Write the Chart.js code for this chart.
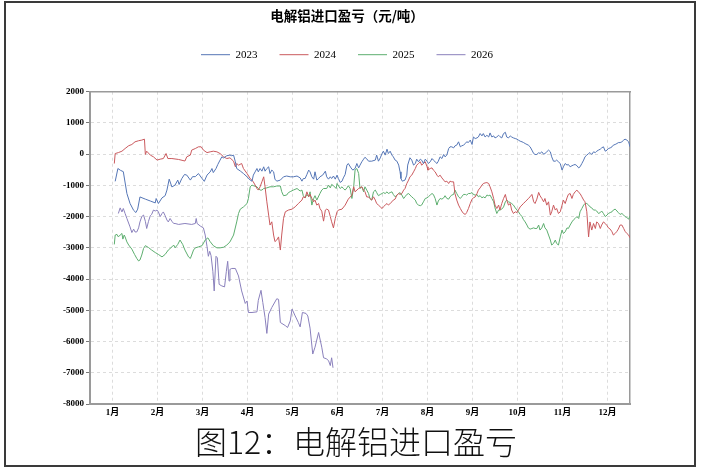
<!DOCTYPE html>
<html>
<head>
<meta charset="utf-8">
<script src="https://cdn.jsdelivr.net/npm/chart.js@4/dist/chart.umd.min.js"></script>
<style>
  html, body { margin: 0; padding: 0; background: #fff; }
  body { width: 701px; height: 468px; position: relative; overflow: hidden; }
  #frame {
    position: absolute; left: 4px; top: 1px; width: 692px; height: 466px;
    box-sizing: border-box; border: 2px solid #3a3a3a;
  }
  #chart { position: absolute; left: 0; top: 0; }
  #caption {
    position: absolute; left: 0; top: 421px; width: 712px; height: 38px;
    text-align: center; line-height: 38px;
    font-family: "Noto Sans CJK SC", sans-serif; font-size: 32px; font-weight: 300;
    color: #111;
  }
</style>
</head>
<body>
<div id="frame"></div>
<canvas id="chart" width="701" height="422"></canvas>
<div id="caption">图12：电解铝进口盈亏</div>

<script>
/* 电解铝进口盈亏 (元/吨)，x = 月份(小数)，y = 盈亏 */
const monthLabels = ['1月', '2月', '3月', '4月', '5月', '6月', '7月', '8月', '9月', '10月', '11月', '12月'];
const seriesNames = ['2023', '2024', '2025', '2026'];
const seriesColors = ['#5576B6', '#CA5A5E', '#5DAE6F', '#8A80BC'];

const y2023 = [
  [1.06,-870],[1.12,-460],[1.18,-520],[1.24,-560],[1.32,-1260],[1.39,-1580],[1.47,-1800],[1.52,-1870],[1.56,-1760],
  [1.61,-1370],[1.73,-1440],[1.84,-1500],[1.95,-1560],[1.97,-1420],[2.02,-1580],[2.10,-1400],[2.17,-1330],[2.21,-1150],
  [2.26,-800],[2.32,-1050],[2.39,-990],[2.45,-830],[2.48,-970],[2.54,-780],[2.60,-650],[2.65,-670],[2.73,-830],
  [2.78,-720],[2.84,-720],[2.91,-620],[2.99,-780],[3.04,-870],[3.10,-670],[3.17,-570],[3.21,-460],[3.24,-590],
  [3.30,-460],[3.34,-330],[3.39,-190],[3.43,-85],[3.47,-120],[3.54,-50],[3.61,-30],[3.65,-50],[3.69,-30],
  [3.73,-245],[3.76,-460],[3.84,-540],[3.91,-620],[3.99,-725],[4.06,-830],[4.10,-865],[4.13,-670],[4.17,-566],
  [4.21,-460],[4.24,-566],[4.28,-460],[4.32,-545],[4.36,-405],[4.39,-545],[4.43,-460],[4.47,-405],[4.50,-620],
  [4.54,-510],[4.58,-566],[4.61,-800],[4.65,-865],[4.73,-830],[4.80,-725],[4.87,-700],[4.95,-725],[5.02,-725],
  [5.10,-700],[5.17,-760],[5.21,-865],[5.24,-780],[5.28,-780],[5.32,-650],[5.36,-510],[5.39,-566],[5.43,-725],
  [5.47,-800],[5.50,-565],[5.54,-830],[5.58,-780],[5.61,-725],[5.67,-672],[5.73,-545],[5.76,-725],[5.80,-800],
  [5.84,-725],[5.87,-780],[5.91,-700],[5.95,-800],[5.99,-672],[6.02,-780],[6.06,-905],[6.10,-865],[6.13,-760],
  [6.17,-650],[6.21,-350],[6.24,-300],[6.30,-440],[6.34,-510],[6.39,-460],[6.43,-300],[6.47,-440],[6.50,-352],
  [6.54,-245],[6.58,-160],[6.61,-100],[6.65,-150],[6.69,-225],[6.76,-225],[6.84,-190],[6.87,-30],[6.91,-225],
  [6.95,-120],[6.99,20],[7.02,95],[7.06,-30],[7.10,160],[7.13,20],[7.17,95],[7.21,-30],[7.24,-85],[7.28,-190],
  [7.32,-225],[7.36,-350],[7.39,-566],[7.41,-780],[7.44,-865],[7.50,-830],[7.54,-672],[7.56,-350],[7.61,-115],
  [7.65,-190],[7.69,-350],[7.73,-300],[7.76,-160],[7.80,-245],[7.84,-160],[7.87,-190],[7.91,-300],[7.95,-160],
  [7.99,-225],[8.02,-300],[8.06,-245],[8.10,-140],[8.13,-190],[8.17,-245],[8.21,-300],[8.24,-225],[8.28,-85],
  [8.32,-140],[8.36,-10],[8.39,-85],[8.43,-30],[8.47,180],[8.50,235],[8.54,235],[8.58,200],[8.61,265],[8.65,290],
  [8.69,395],[8.73,235],[8.76,265],[8.80,290],[8.84,340],[8.87,395],[8.91,375],[8.95,450],[8.99,310],[9.02,550],
  [9.06,500],[9.10,520],[9.13,550],[9.17,660],[9.21,585],[9.24,660],[9.28,550],[9.32,605],[9.36,550],[9.39,680],
  [9.43,550],[9.47,585],[9.50,520],[9.54,550],[9.58,605],[9.61,560],[9.65,520],[9.69,660],[9.73,700],[9.76,550],
  [9.80,520],[9.84,585],[9.87,550],[9.91,520],[9.95,500],[9.99,480],[10.02,450],[10.06,415],[10.10,395],
  [10.13,375],[10.17,340],[10.21,310],[10.24,290],[10.28,235],[10.32,130],[10.36,20],[10.39,-10],[10.43,-10],
  [10.47,50],[10.50,20],[10.54,75],[10.58,0],[10.61,20],[10.65,75],[10.69,130],[10.73,75],[10.76,-85],
  [10.80,-225],[10.84,-225],[10.87,-190],[10.91,-245],[10.95,-300],[10.99,-510],[11.02,-405],[11.06,-300],
  [11.10,-350],[11.13,-330],[11.17,-405],[11.21,-370],[11.24,-350],[11.28,-330],[11.32,-370],[11.36,-440],
  [11.39,-405],[11.43,-300],[11.47,-190],[11.50,-85],[11.54,-30],[11.58,20],[11.61,50],[11.65,-10],[11.69,75],
  [11.73,50],[11.76,95],[11.80,130],[11.84,160],[11.87,200],[11.91,235],[11.95,95],[11.99,130],[12.02,180],
  [12.06,200],[12.10,235],[12.13,290],[12.17,310],[12.21,340],[12.24,370],[12.28,370],[12.32,395],[12.36,450],
  [12.39,480],[12.43,450],[12.47,395],[12.50,235]
];

const y2024 = [
  [1.04,-300],[1.06,20],[1.13,50],[1.21,95],[1.28,180],[1.36,270],[1.43,310],[1.50,395],[1.58,430],[1.65,450],
  [1.71,480],[1.73,-10],[1.76,95],[1.84,-30],[1.91,-85],[1.99,-190],[2.06,-160],[2.13,-140],[2.19,20],[2.23,-140],
  [2.32,-140],[2.47,-170],[2.61,-220],[2.65,-85],[2.73,-30],[2.76,130],[2.84,180],[2.91,235],[2.97,235],[3.02,130],
  [3.10,50],[3.17,75],[3.24,95],[3.32,75],[3.39,20],[3.47,-85],[3.54,-140],[3.61,-117],[3.69,-225],[3.73,-405],
  [3.76,-300],[3.80,-352],[3.87,-300],[3.91,-460],[3.99,-620],[4.06,-780],[4.12,-865],[4.17,-990],[4.21,-1100],
  [4.24,-1150],[4.28,-1045],[4.32,-886],[4.36,-725],[4.39,-1045],[4.43,-1526],[4.47,-1952],[4.50,-2270],
  [4.54,-2166],[4.58,-2590],[4.61,-2800],[4.65,-2750],[4.69,-2650],[4.73,-3070],[4.76,-2590],[4.80,-2060],
  [4.84,-1846],[4.91,-1790],[4.99,-1760],[5.06,-1686],[5.13,-1580],[5.21,-1470],[5.24,-1365],[5.28,-1400],
  [5.32,-1206],[5.36,-1365],[5.39,-1290],[5.43,-1419],[5.47,-1526],[5.50,-1470],[5.54,-1632],[5.58,-1580],
  [5.61,-1739],[5.65,-1825],[5.69,-2145],[5.73,-1790],[5.76,-1760],[5.80,-1790],[5.84,-2000],[5.87,-2166],
  [5.91,-2360],[5.95,-2059],[5.99,-1846],[6.02,-1790],[6.10,-1760],[6.17,-1632],[6.24,-1440],[6.32,-1312],
  [6.36,-1045],[6.39,-1206],[6.47,-1099],[6.54,-1045],[6.58,-1150],[6.61,-1200],[6.65,-1370],[6.69,-1370],
  [6.72,-1420],[6.76,-1470],[6.80,-1365],[6.84,-1470],[6.87,-1580],[6.91,-1630],[6.95,-1686],[6.99,-1740],
  [7.02,-1686],[7.06,-1630],[7.10,-1580],[7.13,-1630],[7.17,-1580],[7.21,-1525],[7.24,-1470],[7.28,-1440],
  [7.32,-1312],[7.36,-1260],[7.39,-1290],[7.43,-1260],[7.47,-1150],[7.50,-1100],[7.54,-940],[7.58,-830],
  [7.61,-725],[7.65,-672],[7.69,-566],[7.73,-459],[7.76,-352],[7.80,-300],[7.84,-245],[7.87,-352],[7.91,-300],
  [7.95,-245],[7.99,-405],[8.01,-510],[8.06,-459],[8.10,-440],[8.13,-510],[8.17,-566],[8.21,-672],[8.24,-725],
  [8.28,-672],[8.32,-760],[8.36,-830],[8.39,-886],[8.43,-865],[8.47,-940],[8.50,-865],[8.54,-886],[8.58,-886],
  [8.61,-1260],[8.65,-1470],[8.69,-1630],[8.73,-1740],[8.76,-1820],[8.80,-1900],[8.84,-1930],[8.87,-1870],
  [8.91,-1740],[8.95,-1580],[8.99,-1440],[9.02,-1400],[9.06,-1370],[9.10,-1260],[9.13,-1150],[9.17,-1080],
  [9.21,-990],[9.24,-940],[9.28,-920],[9.32,-910],[9.36,-940],[9.39,-1045],[9.43,-1206],[9.47,-1420],
  [9.50,-1630],[9.54,-1740],[9.58,-1630],[9.61,-1790],[9.65,-1580],[9.69,-1420],[9.73,-1290],[9.76,-1470],
  [9.80,-1630],[9.84,-1580],[9.87,-1790],[9.91,-1900],[9.95,-1846],[9.99,-1870],[10.02,-1790],[10.06,-1686],
  [10.10,-1630],[10.13,-1580],[10.17,-1526],[10.21,-1470],[10.24,-1420],[10.28,-1365],[10.32,-1290],
  [10.36,-1526],[10.39,-1580],[10.43,-1440],[10.47,-1225],[10.50,-1330],[10.54,-1419],[10.58,-1526],
  [10.61,-1419],[10.65,-1632],[10.69,-1526],[10.73,-1952],[10.76,-1846],[10.80,-1632],[10.84,-1790],
  [10.87,-1739],[10.91,-1900],[10.95,-1846],[10.99,-1632],[11.02,-1470],[11.06,-1580],[11.10,-1400],
  [11.13,-1290],[11.17,-1260],[11.21,-1419],[11.24,-1290],[11.28,-1206],[11.32,-1150],[11.36,-1225],
  [11.39,-1260],[11.43,-1365],[11.47,-1470],[11.50,-1526],[11.54,-1846],[11.58,-2650],[11.61,-2170],
  [11.65,-2430],[11.69,-2220],[11.73,-2380],[11.76,-2170],[11.80,-2220],[11.84,-2380],[11.87,-2270],
  [11.91,-2170],[11.95,-2220],[11.99,-2290],[12.02,-2360],[12.06,-2400],[12.10,-2486],[12.13,-2590],
  [12.17,-2540],[12.21,-2470],[12.24,-2400],[12.28,-2270],[12.32,-2270],[12.36,-2380],[12.39,-2470],
  [12.43,-2540],[12.47,-2590],[12.50,-2680]
];

const y2025 = [
  [1.04,-2890],[1.06,-2590],[1.10,-2570],[1.13,-2650],[1.17,-2590],[1.21,-2540],[1.23,-2720],[1.26,-2590],
  [1.28,-2650],[1.32,-2810],[1.36,-2910],[1.43,-3040],[1.49,-3210],[1.54,-3340],[1.58,-3420],[1.61,-3390],
  [1.65,-3230],[1.69,-3020],[1.73,-2930],[1.80,-2990],[1.87,-3070],[1.95,-3150],[2.02,-3210],[2.10,-3290],
  [2.17,-3210],[2.24,-3070],[2.32,-2970],[2.36,-2910],[2.39,-3000],[2.45,-2890],[2.50,-2750],[2.56,-2890],
  [2.61,-3070],[2.69,-3290],[2.73,-3340],[2.76,-3230],[2.80,-3070],[2.84,-3000],[2.91,-2970],[2.99,-2930],
  [3.06,-2750],[3.12,-2680],[3.17,-2800],[3.24,-2930],[3.32,-3000],[3.39,-3000],[3.47,-2980],[3.54,-2910],
  [3.61,-2810],[3.69,-2590],[3.76,-2170],[3.80,-1900],[3.84,-1760],[3.91,-1690],[3.99,-1580],[4.02,-1420],
  [4.06,-1045],[4.10,-990],[4.13,-1010],[4.21,-1045],[4.24,-1100],[4.28,-1150],[4.32,-1150],[4.36,-1100],
  [4.43,-1080],[4.50,-1045],[4.58,-1045],[4.65,-1020],[4.73,-1020],[4.76,-1200],[4.80,-1330],[4.87,-1310],
  [4.91,-1230],[4.95,-1200],[5.02,-1150],[5.10,-1100],[5.17,-1180],[5.21,-1150],[5.24,-1330],[5.28,-1400],
  [5.32,-1290],[5.36,-1365],[5.39,-1206],[5.43,-1630],[5.47,-1420],[5.50,-1330],[5.54,-1470],[5.61,-1260],
  [5.65,-1150],[5.69,-1100],[5.76,-1100],[5.80,-990],[5.84,-1080],[5.87,-970],[5.91,-1010],[5.97,-1100],
  [5.99,-940],[6.06,-1100],[6.10,-1045],[6.13,-1100],[6.17,-1150],[6.21,-1080],[6.24,-1010],[6.28,-1100],
  [6.32,-1420],[6.36,-1045],[6.39,-510],[6.43,-460],[6.47,-620],[6.50,-1100],[6.54,-1045],[6.58,-1206],
  [6.61,-1045],[6.65,-1150],[6.69,-1260],[6.72,-1420],[6.76,-1470],[6.80,-1206],[6.84,-1150],[6.87,-1230],
  [6.91,-1330],[6.95,-1290],[6.99,-1260],[7.02,-1230],[7.06,-1260],[7.10,-1206],[7.13,-1260],[7.17,-1230],
  [7.21,-1206],[7.24,-1290],[7.28,-1365],[7.32,-1310],[7.36,-1260],[7.39,-1230],[7.43,-1310],[7.47,-1420],
  [7.50,-1365],[7.54,-1290],[7.58,-1260],[7.61,-1310],[7.65,-1365],[7.69,-1419],[7.73,-1470],[7.76,-1580],
  [7.80,-1630],[7.84,-1650],[7.87,-1630],[7.91,-1526],[7.95,-1419],[7.99,-1400],[8.02,-1365],[8.06,-1310],
  [8.10,-1260],[8.13,-1290],[8.17,-1419],[8.21,-1630],[8.24,-1500],[8.28,-1419],[8.32,-1440],[8.36,-1400],
  [8.39,-1330],[8.43,-1419],[8.47,-1440],[8.50,-1365],[8.54,-1310],[8.58,-1290],[8.61,-1150],[8.65,-1260],
  [8.69,-1365],[8.73,-1419],[8.76,-1365],[8.80,-1290],[8.84,-1290],[8.87,-1310],[8.91,-1260],[8.95,-1260],
  [8.99,-1230],[9.02,-1290],[9.06,-1310],[9.10,-1290],[9.13,-1365],[9.17,-1330],[9.21,-1400],[9.24,-1365],
  [9.28,-1400],[9.32,-1310],[9.36,-1330],[9.39,-1310],[9.43,-1419],[9.47,-1525],[9.50,-1720],[9.54,-1900],
  [9.58,-1790],[9.61,-1790],[9.65,-1760],[9.69,-1690],[9.73,-1525],[9.76,-1470],[9.80,-1525],[9.84,-1550],
  [9.87,-1580],[9.91,-1630],[9.95,-1720],[9.99,-1790],[10.02,-1846],[10.06,-1930],[10.10,-2000],[10.13,-2090],
  [10.17,-2170],[10.21,-2270],[10.24,-2360],[10.28,-2400],[10.32,-2380],[10.36,-2360],[10.39,-2380],
  [10.43,-2380],[10.47,-2270],[10.50,-2430],[10.54,-2360],[10.58,-2220],[10.61,-2360],[10.65,-2430],
  [10.69,-2590],[10.73,-2750],[10.76,-2910],[10.80,-2860],[10.84,-2750],[10.87,-2860],[10.91,-2910],
  [10.95,-2650],[10.99,-2430],[11.02,-2540],[11.06,-2486],[11.10,-2360],[11.13,-2380],[11.17,-2270],
  [11.21,-2170],[11.24,-2110],[11.28,-2060],[11.32,-2000],[11.36,-2060],[11.39,-1846],[11.43,-1740],
  [11.47,-1630],[11.50,-1580],[11.54,-1580],[11.58,-1630],[11.61,-1686],[11.65,-1720],[11.69,-1790],
  [11.73,-1790],[11.76,-1820],[11.80,-1900],[11.84,-1870],[11.87,-1820],[11.91,-1900],[11.95,-2000],
  [11.99,-1950],[12.02,-1900],[12.06,-1870],[12.10,-1846],[12.13,-1790],[12.17,-1760],[12.21,-1820],
  [12.24,-1870],[12.28,-1930],[12.32,-1900],[12.36,-1950],[12.39,-2000],[12.43,-2030],[12.47,-2080],
  [12.50,-1975]
];

const y2026 = [
  [1.13,-1900],[1.17,-1720],[1.21,-1850],[1.24,-1740],[1.28,-1900],[1.32,-2060],[1.39,-2330],[1.43,-2510],
  [1.47,-2400],[1.50,-2490],[1.54,-2490],[1.58,-2360],[1.61,-2170],[1.65,-2000],[1.69,-1950],[1.73,-2150],
  [1.76,-2380],[1.80,-2150],[1.84,-1970],[1.87,-1930],[1.91,-1790],[1.95,-1820],[1.99,-1790],[2.02,-1850],
  [2.06,-2000],[2.10,-1900],[2.13,-1850],[2.17,-1970],[2.21,-2110],[2.24,-2170],[2.28,-2060],[2.32,-2150],
  [2.36,-2220],[2.39,-2220],[2.47,-2250],[2.61,-2220],[2.76,-2250],[2.84,-2220],[2.86,-2060],[2.88,-2220],
  [2.95,-2300],[3.02,-2360],[3.06,-2590],[3.10,-2950],[3.13,-3270],[3.16,-3110],[3.19,-3250],[3.23,-3750],
  [3.26,-4380],[3.30,-3270],[3.33,-3320],[3.37,-4170],[3.43,-4220],[3.49,-4250],[3.53,-3750],[3.56,-3430],
  [3.59,-4060],[3.61,-3690],[3.65,-3660],[3.73,-3660],[3.80,-3900],[3.87,-4380],[3.95,-4780],[3.99,-4700],
  [4.02,-5070],[4.10,-5070],[4.21,-5050],[4.24,-4680],[4.30,-4360],[4.34,-4750],[4.39,-5230],[4.43,-5740],
  [4.47,-5120],[4.54,-4910],[4.65,-4630],[4.69,-4650],[4.73,-5390],[4.84,-5490],[4.89,-5550],[4.95,-5340],
  [4.99,-4960],[5.06,-5180],[5.13,-5390],[5.17,-5530],[5.22,-5070],[5.30,-5100],[5.34,-5180],[5.39,-5570],
  [5.45,-6400],[5.50,-6180],[5.58,-5710],[5.65,-6180],[5.69,-6520],[5.75,-6550],[5.80,-6610],[5.84,-6770],
  [5.87,-6520],[5.90,-6840]
];

const yTicks = [-8000, -7000, -6000, -5000, -4000, -3000, -2000, -1000, 0, 1000, 2000];

const serif = "'Liberation Serif', 'Noto Sans CJK SC', serif";
const tickFont = { family: serif, size: 9, weight: 'bold' };
const axisGray = '#9a9a9a';
const gridGray = '#dcdcdc';

const allSeries = [y2023, y2024, y2025, y2026];

new Chart(document.getElementById('chart'), {
  type: 'line',
  data: {
    datasets: allSeries.map((pts, i) => ({
      label: seriesNames[i],
      data: pts.map(([x, y]) => ({ x, y })),
      borderColor: seriesColors[i],
      backgroundColor: seriesColors[i],
      borderWidth: 1,
      pointRadius: 0,
      tension: 0
    }))
  },
  options: {
    responsive: false,
    animation: false,
    layout: { padding: { left: 2, right: 9, top: 0, bottom: 0 } },
    plugins: {
      title: {
        display: true,
        text: '电解铝进口盈亏（元/吨）',
        color: '#000',
        font: { family: "'Noto Sans CJK SC', sans-serif", size: 13.5, weight: 'bold' },
        padding: { top: 8, bottom: 3 }
      },
      legend: {
        position: 'top',
        labels: {
          usePointStyle: true,
          pointStyle: 'line',
          pointStyleWidth: 29,
          padding: 22,
          color: '#000',
          font: { family: serif, size: 11 }
        }
      },
      tooltip: { enabled: false }
    },
    scales: {
      x: {
        type: 'linear',
        min: 0.5,
        max: 12.5,
        afterBuildTicks: scale => { scale.ticks = monthLabels.map((_, i) => ({ value: i + 1 })); },
        afterFit: scale => { scale.height = 18; },
        ticks: {
          autoSkip: false,
          maxRotation: 0,
          padding: 3,
          color: '#000',
          font: tickFont,
          callback: v => monthLabels[v - 1]
        },
        grid: { color: gridGray, drawTicks: false },
        border: { color: axisGray, width: 2, dash: [3, 3] }
      },
      xTop: {
        type: 'linear',
        position: 'top',
        afterFit: scale => { scale.height = 21.5; },
        ticks: { display: false },
        grid: { display: false, drawTicks: false },
        border: { color: axisGray, width: 1.5 }
      },
      y: {
        min: -8000,
        max: 2000,
        afterBuildTicks: scale => { scale.ticks = yTicks.map(v => ({ value: v })); },
        afterFit: scale => { scale.width = 88; },
        ticks: {
          padding: 2,
          color: '#000',
          font: tickFont,
          callback: v => String(v)
        },
        grid: { color: gridGray, tickLength: 4, tickColor: '#777', tickBorderDash: [] },
        border: { color: axisGray, width: 2, dash: [3, 3] }
      },
      yRight: {
        position: 'right',
        afterFit: scale => { scale.width = 62; },
        ticks: { display: false },
        grid: { display: false, drawTicks: false },
        border: { color: axisGray, width: 1.5 }
      }
    }
  }
});
</script>
</body>
</html>
